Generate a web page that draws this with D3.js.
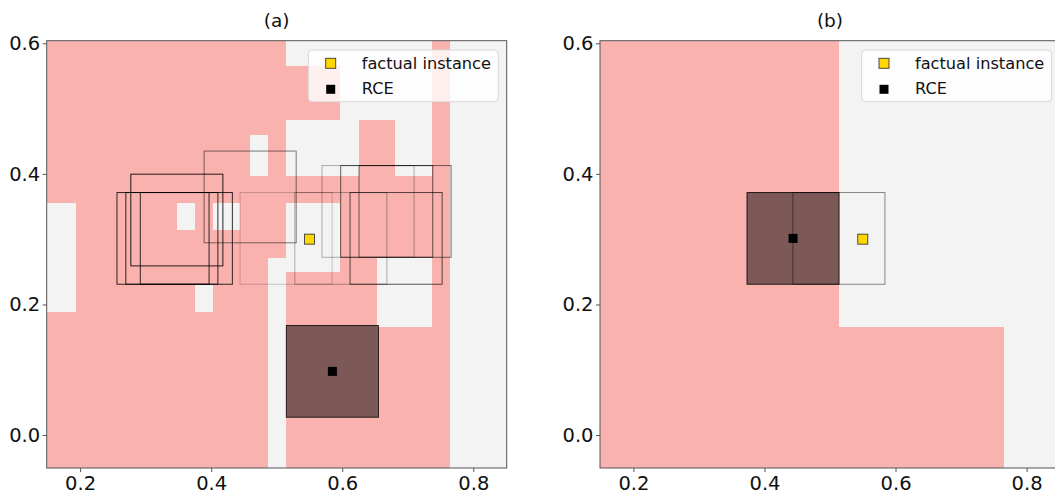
<!DOCTYPE html>
<html><head><meta charset="utf-8">
<script src="https://cdn.jsdelivr.net/npm/d3@7"></script>
<style>
html,body{margin:0;padding:0;background:#fff;}
svg{display:block;font-family:"DejaVu Sans",sans-serif;}
</style></head><body>
<svg id="chart" width="1055" height="494"></svg>
<script>
// ---- data ----
const xTicks = [0.2, 0.4, 0.6, 0.8];
const yTicks = [0.0, 0.2, 0.4, 0.6];
const xDomain = [0.149, 0.851];
const yDomain = [-0.0505, 0.604];
const panelTitles = ["(a)", "(b)"];
const legendLabels = ["factual instance", "RCE"];

const factual = [0.55, 0.30];
const rceA = [0.585, 0.0975];
const rceB = [0.4436, 0.3012];
const boxSize = [0.1405, 0.1405];

// cells of the favourable (grey) class, [x0, x1, y0, y1]; the rest is the pink class
const greyCellsA = [
  [0.149, 0.194, 0.188, 0.355],
  [0.348, 0.3756, 0.314, 0.355],
  [0.4035, 0.444, 0.314, 0.355],
  [0.4585, 0.486, 0.397, 0.459],
  [0.3756, 0.4035, 0.188, 0.230],
  [0.514, 0.737, 0.566, 0.604],
  [0.597, 0.737, 0.482, 0.566],
  [0.514, 0.6255, 0.397, 0.482],
  [0.681, 0.737, 0.397, 0.482],
  [0.514, 0.597, 0.250, 0.355],
  [0.486, 0.514, -0.0505, 0.271],
  [0.653, 0.737, 0.166, 0.271],
  [0.765, 0.851, -0.0505, 0.604]
];
const greyCellsB = [
  [0.514, 0.851, 0.166, 0.604],
  [0.765, 0.851, -0.0505, 0.166]
];

// neighbourhood boxes (centres) explored around candidate points
const boxCentersA = [
  [0.3476, 0.3293], [0.3265, 0.3012], [0.3400, 0.3012], [0.3621, 0.3012],
  [0.4595, 0.3647], [0.5143, 0.3012], [0.5979, 0.3012],
  [0.6394, 0.3425], [0.6679, 0.3425], [0.6959, 0.3425], [0.6822, 0.3012]
];
const boxCentersB = [[0.5136, 0.3012]];

// ---- styles ----
const boxEdgeOpacityA = [0.85, 0.8, 0.8, 0.8, 0.5, 0.2, 0.3, 0.3, 0.6, 0.55, 0.65];
const boxEdgeOpacityB = [0.45];
const PINK = "#f9b2ae", GREY = "#f3f3f3";

const svg = d3.select("#chart");
const panelW = 460, panelH = 427.3, plotTop = 40.7;
const panels = [
  {left: 46.7, grey: greyCellsA, boxes: boxCentersA, boxOp: boxEdgeOpacityA, rce: rceA, title: panelTitles[0]},
  {left: 600, grey: greyCellsB, boxes: boxCentersB, boxOp: boxEdgeOpacityB, rce: rceB, title: panelTitles[1]}
];

panels.forEach((p, i) => {
  const x = d3.scaleLinear().domain(xDomain).range([0, panelW]);
  const y = d3.scaleLinear().domain(yDomain).range([panelH, 0]);
  const g = svg.append("g").attr("transform", `translate(${p.left},${plotTop})`);

  g.append("clipPath").attr("id", "clip" + i)
    .append("rect").attr("width", panelW).attr("height", panelH);
  const plot = g.append("g").attr("clip-path", `url(#clip${i})`);

  // class regions
  plot.append("rect")
    .attr("x", x(xDomain[0])).attr("y", y(yDomain[1]))
    .attr("width", x(xDomain[1]) - x(xDomain[0]))
    .attr("height", y(yDomain[0]) - y(yDomain[1]))
    .attr("fill", PINK);
  plot.selectAll("rect.cell").data(p.grey).join("rect").attr("class", "cell")
    .attr("x", d => x(d[0])).attr("y", d => y(d[3]))
    .attr("width", d => x(d[1]) - x(d[0]))
    .attr("height", d => y(d[2]) - y(d[3]))
    .attr("fill", GREY).attr("shape-rendering", "crispEdges");

  // RCE box, filled
  plot.append("rect")
    .attr("x", x(p.rce[0] - boxSize[0] / 2)).attr("y", y(p.rce[1] + boxSize[1] / 2))
    .attr("width", x(p.rce[0] + boxSize[0] / 2) - x(p.rce[0] - boxSize[0] / 2))
    .attr("height", y(p.rce[1] - boxSize[1] / 2) - y(p.rce[1] + boxSize[1] / 2))
    .attr("fill", "#000").attr("fill-opacity", 0.5)
    .attr("stroke", "#000").attr("stroke-opacity", 0.8).attr("stroke-width", 1);

  // outlined boxes
  plot.selectAll("rect.box").data(p.boxes).join("rect").attr("class", "box")
    .attr("x", d => x(d[0] - boxSize[0] / 2)).attr("y", d => y(d[1] + boxSize[1] / 2))
    .attr("width", d => x(d[0] + boxSize[0] / 2) - x(d[0] - boxSize[0] / 2))
    .attr("height", d => y(d[1] - boxSize[1] / 2) - y(d[1] + boxSize[1] / 2))
    .attr("fill", "none").attr("stroke", "#000")
    .attr("stroke-opacity", (d, j) => p.boxOp[j]).attr("stroke-width", 1);

  // markers
  const fs = 10, rs = 9;
  plot.append("rect")
    .attr("x", x(factual[0]) - fs / 2).attr("y", y(factual[1]) - fs / 2)
    .attr("width", fs).attr("height", fs)
    .attr("fill", "#ffd700").attr("stroke", "#3a3a3a").attr("stroke-width", 0.9);
  plot.append("rect")
    .attr("x", x(p.rce[0]) - rs / 2).attr("y", y(p.rce[1]) - rs / 2)
    .attr("width", rs).attr("height", rs).attr("fill", "#000");

  // frame
  g.append("rect").attr("width", panelW).attr("height", panelH)
    .attr("fill", "none").attr("stroke", "#555").attr("stroke-width", 1);

  // axes
  const ax = g.append("g").attr("transform", `translate(0,${panelH})`)
    .call(d3.axisBottom(x).tickValues(xTicks).tickFormat(d3.format(".1f")).tickSize(4).tickPadding(4).tickSizeOuter(0));
  const ay = g.append("g")
    .call(d3.axisLeft(y).tickValues(yTicks).tickFormat(d3.format(".1f")).tickSize(4).tickPadding(2.5).tickSizeOuter(0));
  [ax, ay].forEach(a => {
    a.select(".domain").remove();
    a.selectAll("line").attr("stroke", "#555");
    a.selectAll("text").attr("font-size", 19.5).attr("fill", "#111")
      .attr("font-family", "DejaVu Sans, sans-serif");
  });

  // title
  svg.append("text").attr("x", p.left + panelW / 2).attr("y", 27)
    .attr("text-anchor", "middle").attr("font-size", 18.5).attr("fill", "#111")
    .text(p.title);

  // legend
  const lg = g.append("g").attr("transform", `translate(${261.6},${50 - plotTop})`);
  lg.append("rect").attr("width", 190).attr("height", 51.7).attr("rx", 4)
    .attr("fill", "#fff").attr("fill-opacity", 0.8)
    .attr("stroke", "#d8d8d8").attr("stroke-width", 1);
  lg.append("rect").attr("x", 22.4 - 5).attr("y", 13.3 - 5).attr("width", 10).attr("height", 10)
    .attr("fill", "#ffd700").attr("stroke", "#3a3a3a").attr("stroke-width", 0.9);
  lg.append("rect").attr("x", 22.4 - 4.5).attr("y", 39.3 - 4.5).attr("width", 9).attr("height", 9)
    .attr("fill", "#000");
  lg.selectAll("text").data(legendLabels).join("text")
    .attr("x", 53.4).attr("y", (d, j) => 18.5 + j * 25.5)
    .attr("font-size", 16.2).attr("fill", "#111").text(d => d);
});
</script>
</body></html>
